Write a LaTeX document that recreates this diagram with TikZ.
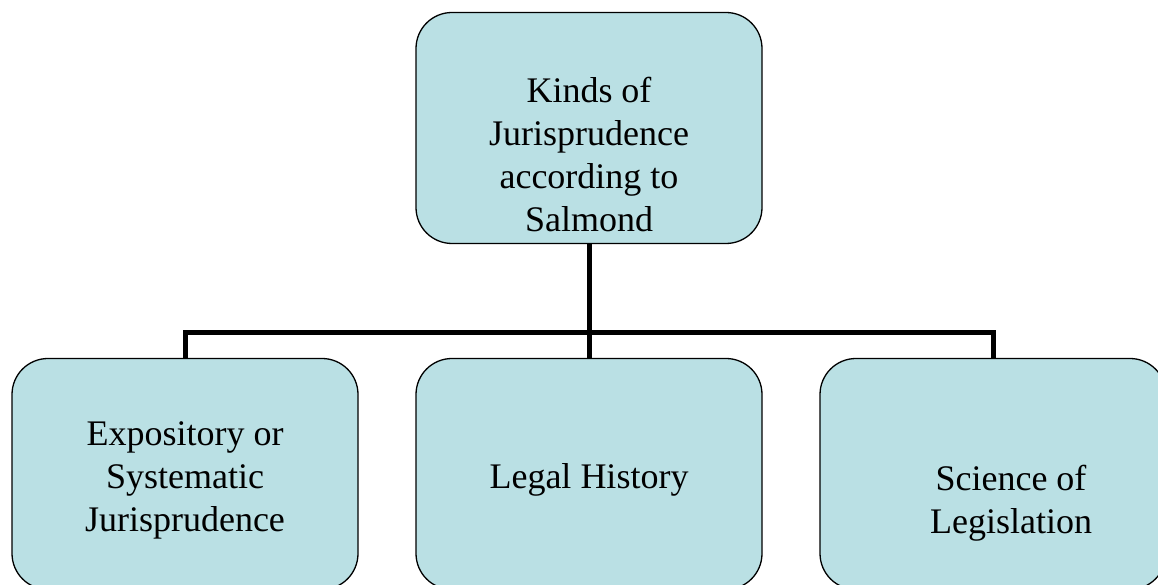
\documentclass[tikz,border=0pt]{standalone}
\usepackage{fontspec}
\setmainfont{Liberation Serif}
\definecolor{boxfill}{RGB}{186,224,228}
\tikzset{box/.style={draw=black, line width=1.3pt, fill=boxfill, rounded corners=36pt,
                     minimum width=346pt, minimum height=231pt},
         lbl/.style={align=center, font=\fontsize{36}{43}\selectfont},
         conn/.style={line width=5pt}}

\begin{document}
\begin{tikzpicture}[x=1pt,y=1pt]
  \useasboundingbox (0,0) rectangle (1158,585);
  \clip (0,0) rectangle (1158,585);
  \node[box] (kinds) at (589,457) {};
  \node[box] (expo) at (185,111) {};
  \node[box] (hist) at (589,111) {};
  \node[box] (legis) at (993,111) {};
  \node[lbl] (kindst) at ([yshift=-27pt]kinds.center) {Kinds of\\Jurisprudence\\according to\\Salmond};
  \node[lbl] (expot) at ([yshift=-6pt]expo.center) {Expository or\\Systematic\\Jurisprudence};
  \node[lbl] (histt) at ([yshift=-6pt]hist.center) {Legal History};
  \node[lbl] (legist) at ([xshift=18pt,yshift=-29pt]legis.center) {Science of\\Legislation};
  \coordinate (bar) at (589,252);
  \draw[conn] (kinds.south) -- (hist.north);
  \draw[conn] (expo.north) |- (bar) -| (legis.north);
\end{tikzpicture}
\end{document}
